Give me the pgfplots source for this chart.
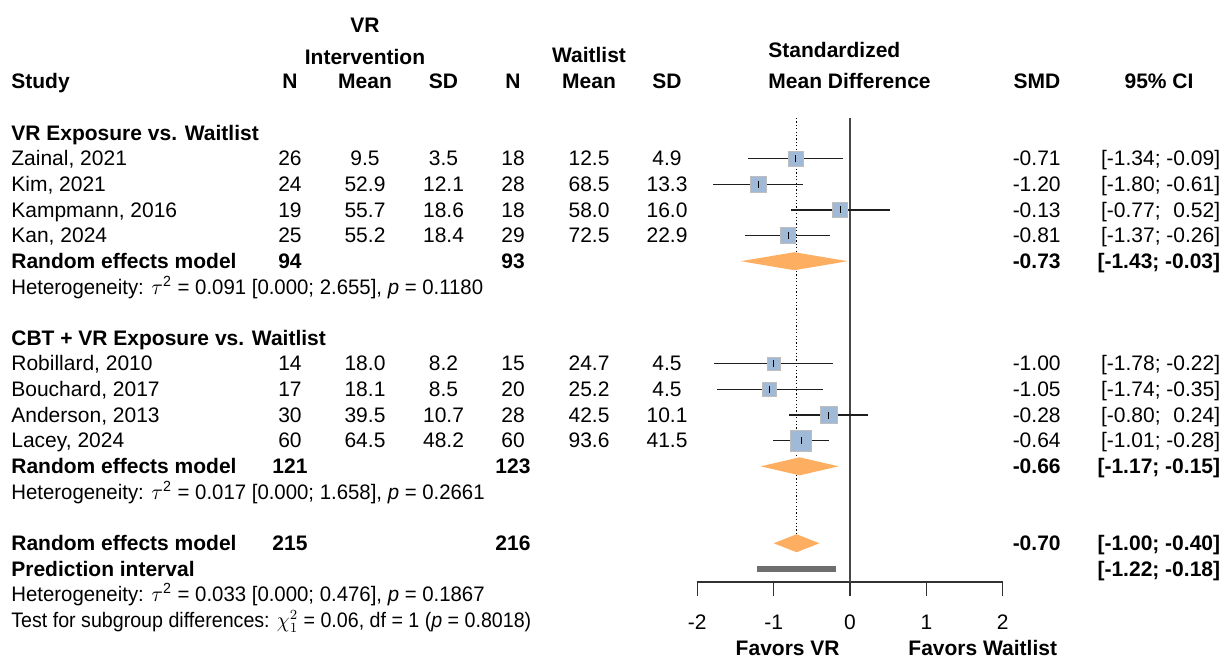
\documentclass[border=0pt]{standalone}
\usepackage{pgfplots}
\pgfplotsset{compat=1.18}
\usepackage{pgfplotstable}
\usepackage{graphicx}
\usepackage{fontspec}
\setmainfont{Liberation Sans}
\newcommand\fs{\fontsize{10.5}{12.6}\selectfont}
\definecolor{sqfill}{RGB}{160,185,215}
\definecolor{sqborder}{RGB}{190,190,190}
\definecolor{dia}{RGB}{253,174,97}
\definecolor{pigray}{RGB}{110,110,110}
\definecolor{ciline}{RGB}{30,30,30}
\definecolor{zline}{RGB}{70,70,70}
\definecolor{axcol}{RGB}{50,50,50}
\tikzset{t/.style={inner sep=0pt, text height=0.716em, text depth=0pt, font=\fs}}
% text node at pixel column #2, row #3
\newcommand{\T}[4][center]{\node[t, anchor=#1] at (axis cs:{(#2-850)/76.35},{-(#3)}) {#4};}
\newcommand{\Row}[9]{%
  \T[west]{11}{#1}{#2}\T{290}{#1}{#3}\T{365}{#1}{#4}\T{443.5}{#1}{#5}%
  \T{513}{#1}{#6}\T{589}{#1}{#7}\T{667}{#1}{#8}\T[east]{1061}{#1}{#9}}
\newcommand{\CI}[2]{\T[east]{1220.5}{#1}{#2}}
\newcommand{\Het}[3]{\T[west]{11}{#1}{\scalebox{#2}[1]{#3}}}

\pgfplotstableread{
y    est    lo     hi     sz
-1   -0.71  -1.34  -0.09  3.70
-2   -1.20  -1.80  -0.61  3.90
-3   -0.13  -0.77   0.52  3.65
-4   -0.81  -1.37  -0.26  3.90
-9   -1.00  -1.78  -0.22  3.20
-10  -1.05  -1.74  -0.35  3.45
-11  -0.28  -0.80   0.24  4.20
-12  -0.64  -1.01  -0.28  5.25
}\studies

\begin{document}
\begin{tikzpicture}
\begin{axis}[
  x=38.175pt, y=12.82pt,
  xmin=-2, xmax=2, ymin=-17.51, ymax=0.585,
  enlargelimits=false,
  axis x line=bottom, axis y line=none,
  axis line style={-},
  x axis line style={-, line width=0.65pt, draw=axcol},
  xtick={-2,-1,0,1,2}, xticklabels={-2,-1,0,1,2},
  ytick=\empty,
  tick align=outside, major tick length=7pt,
  xtick style={line width=0.65pt, draw=axcol},
  xticklabel style={font=\fs, inner sep=0pt, text height=0.716em, text depth=0pt, anchor=north, yshift=-9.5pt},
  clip=false,
]
% bounding box corners
\coordinate (BL) at (axis cs:-11.133,-20.476);
\coordinate (TR) at (axis cs:4.885,5.187);

% reference lines
\addplot[zline, line width=0.65pt, forget plot] coordinates {(0,-17.51) (0,0.585)};
\addplot[black, line width=0.6pt, dash pattern=on 0.6pt off 1.1pt, forget plot] coordinates {(-0.70,0.585) (-0.70,-15.65)};

% confidence intervals
\addplot[only marks, mark=none, forget plot,
  error bars/.cd, x dir=both, x explicit, error mark=none,
  error bar style={line width=0.65pt, draw=ciline}]
  table[x=est, y=y, x error minus expr=\thisrow{est}-\thisrow{lo}, x error plus expr=\thisrow{hi}-\thisrow{est}] {\studies};

% squares
\addplot[scatter, only marks, mark=square*, forget plot,
  scatter/use mapped color={draw=sqborder, fill=sqfill},
  mark options={line width=0.5pt},
  visualization depends on={\thisrow{sz}\as\msz},
  scatter/@pre marker code/.append style={/tikz/mark size=\msz}]
  table[x=est, y=y] {\studies};

% estimate ticks
\addplot[only marks, mark=|, mark size=1.75pt, mark options={line width=0.55pt, draw=black}, forget plot]
  table[x=est, y=y] {\studies};

% diamonds
\addplot[fill=dia, draw=none, forget plot] coordinates {(-1.43,-5) (-0.73,-4.649) (-0.03,-5) (-0.73,-5.351)} -- cycle;
\addplot[fill=dia, draw=none, forget plot] coordinates {(-1.17,-13) (-0.66,-12.649) (-0.15,-13) (-0.66,-13.351)} -- cycle;
\addplot[fill=dia, draw=none, forget plot] coordinates {(-1.00,-16) (-0.70,-15.649) (-0.40,-16) (-0.70,-16.351)} -- cycle;

% prediction interval
\addplot[pigray, line width=3.35pt, forget plot] coordinates {(-1.22,-17) (-0.18,-17)};

% headers
\T{365}{-4.21}{\bfseries VR}
\T{365}{-2.96}{\bfseries Intervention}
\T{589}{-3.04}{\bfseries Waitlist}
\T[west]{768}{-3.22}{\bfseries Standardized}
\T[west]{11}{-2.03}{\bfseries Study}
\T{290}{-2.03}{\bfseries N}
\T{365}{-2.03}{\bfseries Mean}
\T{443.5}{-2.03}{\bfseries SD}
\T{513}{-2.03}{\bfseries N}
\T{589}{-2.03}{\bfseries Mean}
\T{667}{-2.03}{\bfseries SD}
\T[west]{768}{-2.03}{\bfseries Mean Difference}
\T{1037}{-2.03}{\bfseries SMD}
\T{1159}{-2.03}{\bfseries 95\% CI}

% group 1
\T[west]{11}{0}{\bfseries VR Exposure vs. Waitlist}
\Row{1}{Zainal, 2021}{26}{9.5}{3.5}{18}{12.5}{4.9}{-0.71}\CI{1}{[-1.34; -0.09]}
\Row{2}{Kim, 2021}{24}{52.9}{12.1}{28}{68.5}{13.3}{-1.20}\CI{2}{[-1.80; -0.61]}
\Row{3}{Kampmann, 2016}{19}{55.7}{18.6}{18}{58.0}{16.0}{-0.13}\CI{3}{[-0.77; \phantom{-}0.52]}
\Row{4}{Kan, 2024}{25}{55.2}{18.4}{29}{72.5}{22.9}{-0.81}\CI{4}{[-1.37; -0.26]}
\Row{5}{\bfseries Random effects model}{\bfseries 94}{}{}{\bfseries 93}{}{}{\bfseries -0.73}\CI{5}{\bfseries [-1.43; -0.03]}
\Het{6}{0.97}{Heterogeneity: $\tau$\textsuperscript{2} = 0.091 [0.000; 2.655], \textit{p} = 0.1180}

% group 2
\T[west]{11}{8}{\bfseries CBT + VR Exposure vs. Waitlist}
\Row{9}{Robillard, 2010}{14}{18.0}{8.2}{15}{24.7}{4.5}{-1.00}\CI{9}{[-1.78; -0.22]}
\Row{10}{Bouchard, 2017}{17}{18.1}{8.5}{20}{25.2}{4.5}{-1.05}\CI{10}{[-1.74; -0.35]}
\Row{11}{Anderson, 2013}{30}{39.5}{10.7}{28}{42.5}{10.1}{-0.28}\CI{11}{[-0.80; \phantom{-}0.24]}
\Row{12}{Lacey, 2024}{60}{64.5}{48.2}{60}{93.6}{41.5}{-0.64}\CI{12}{[-1.01; -0.28]}
\Row{13}{\bfseries Random effects model}{\bfseries 121}{}{}{\bfseries 123}{}{}{\bfseries -0.66}\CI{13}{\bfseries [-1.17; -0.15]}
\Het{14}{0.97}{Heterogeneity: $\tau$\textsuperscript{2} = 0.017 [0.000; 1.658], \textit{p} = 0.2661}

% overall
\Row{16}{\bfseries Random effects model}{\bfseries 215}{}{}{\bfseries 216}{}{}{\bfseries -0.70}\CI{16}{\bfseries [-1.00; -0.40]}
\T[west]{11}{17}{\bfseries Prediction interval}\CI{17}{\bfseries [-1.22; -0.18]}
\Het{18}{0.97}{Heterogeneity: $\tau$\textsuperscript{2} = 0.033 [0.000; 0.476], \textit{p} = 0.1867}
\Het{19}{0.935}{Test for subgroup differences: $\chi^2_1$ = 0.06, df = 1 (\textit{p} = 0.8018)}

% direction labels
\T[east]{840}{20.09}{\bfseries Favors VR}
\T[west]{908}{20.09}{\bfseries Favors Waitlist}
\end{axis}
\pgfresetboundingbox
\path[use as bounding box] (BL) rectangle (TR);
\end{tikzpicture}
\end{document}
